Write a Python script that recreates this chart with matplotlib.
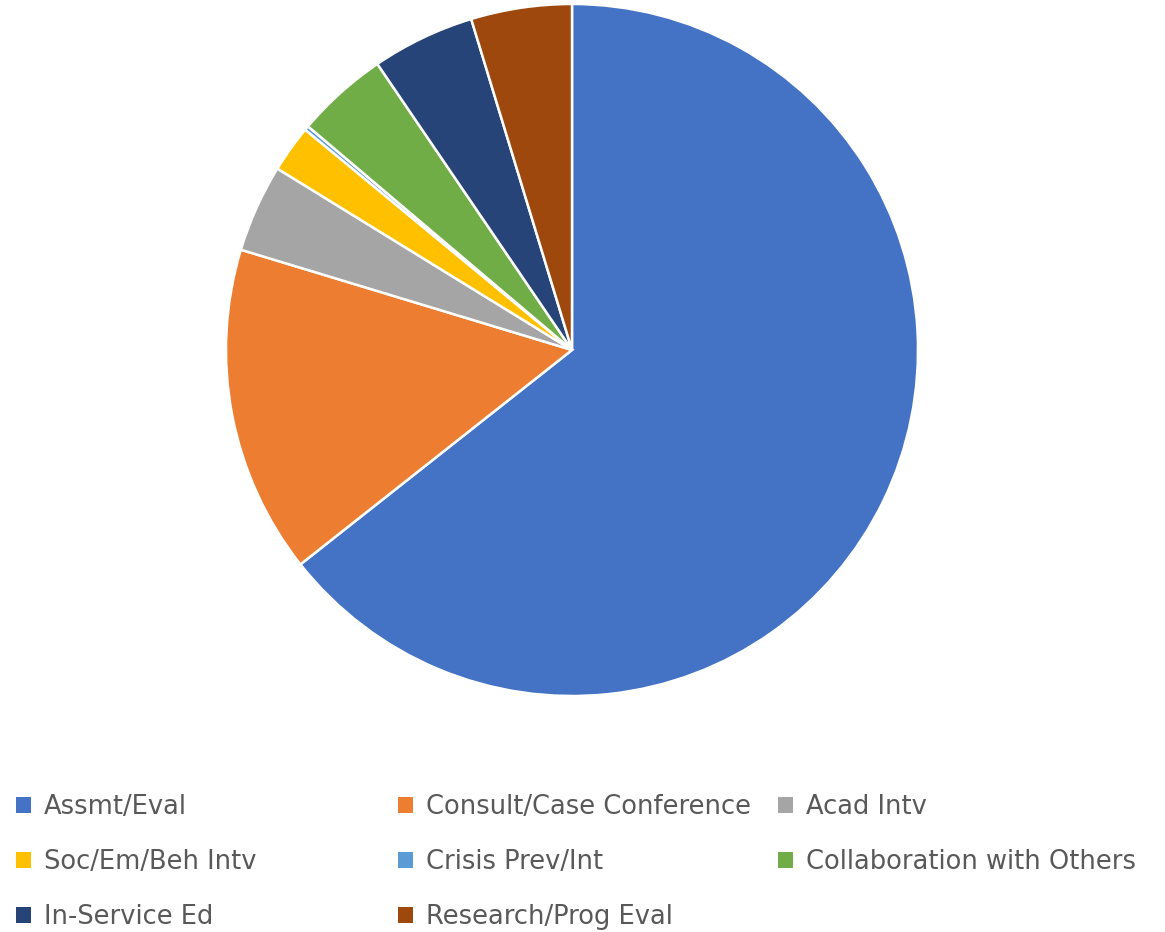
import matplotlib
matplotlib.use("Agg")
import matplotlib.pyplot as plt
from matplotlib.patches import Patch

categories = ["Assmt/Eval", "Consult/Case Conference", "Acad Intv",
              "Soc/Em/Beh Intv", "Crisis Prev/Int", "Collaboration with Others",
              "In-Service Ed", "Research/Prog Eval"]
values = [64.3, 15.3, 4.1, 2.2, 0.2, 4.3, 4.8, 4.7]
colors = ["#4472C4", "#ED7D31", "#A5A5A5", "#FFC000", "#5B9BD5", "#70AD47",
          "#264478", "#9E480E"]

W, H = 1165, 932
fig = plt.figure(figsize=(W / 100, H / 100), dpi=100)

cx, cy, r = 572, 350, 346
ax = fig.add_axes([(cx - r) / W, 1 - (cy + r) / H, 2 * r / W, 2 * r / H])
ax.pie(values, colors=colors, startangle=90, counterclock=False, radius=1,
       wedgeprops=dict(edgecolor="white", linewidth=1.8))
ax.set_xlim(-1.0, 1.0)
ax.set_ylim(-1.0, 1.0)
ax.set_aspect("equal")
ax.axis("off")

col_x = [16, 398, 778]
row_y = [807, 862, 917]
for i, (lab, col) in enumerate(zip(categories, colors)):
    rr, cc = divmod(i, 3)
    fig.legend(handles=[Patch(facecolor=col, edgecolor="none")], labels=[lab],
               loc="center left", bbox_to_anchor=(col_x[cc] / W, 1 - row_y[rr] / H),
               frameon=False, borderpad=0, borderaxespad=0,
               handlelength=0.58, handleheight=0.58, handletextpad=0.5,
               prop=dict(family="DejaVu Sans", size=18.5), labelcolor="#595959")

fig.savefig("out.png", dpi=100)
